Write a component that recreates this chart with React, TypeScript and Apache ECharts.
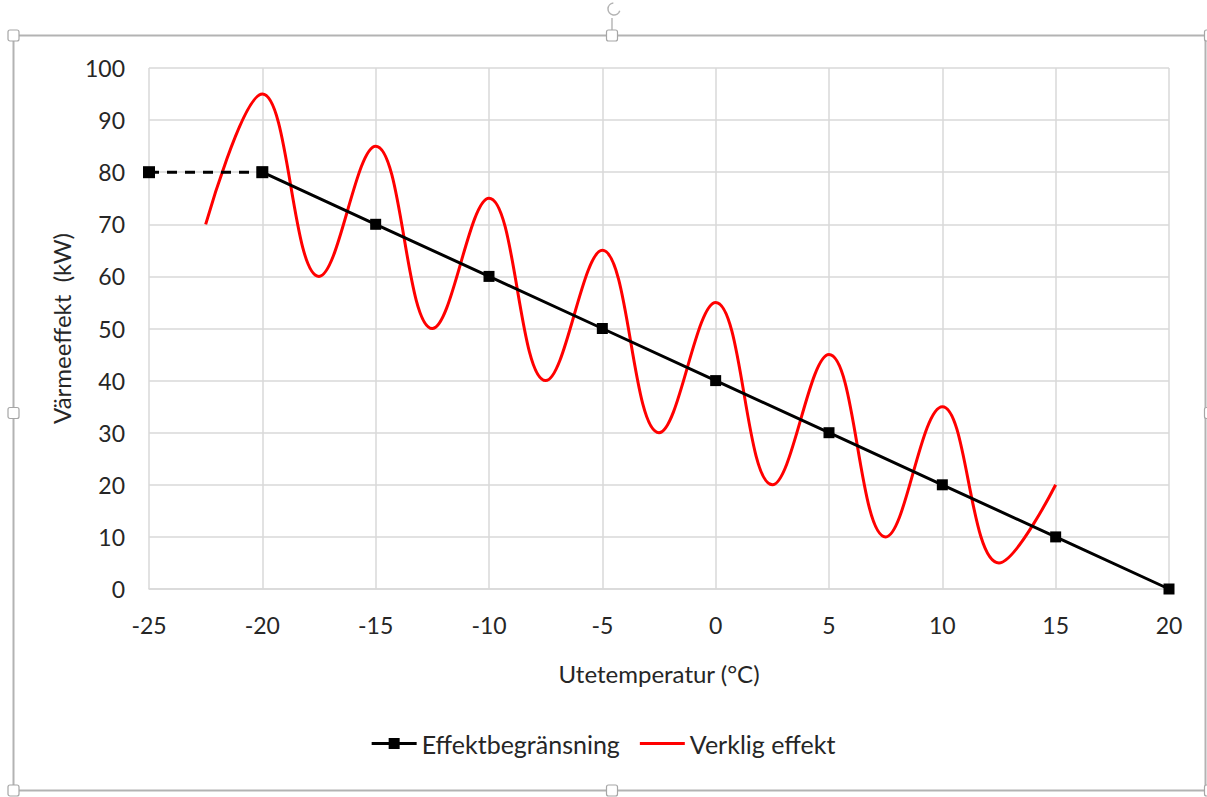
import React, { useEffect, useRef } from "react";
import * as echarts from "echarts";

const limitDashedX = [-25, -20];
const limitDashedY = [80, 80];
const limitX = [-20, -15, -10, -5, 0, 5, 10, 15, 20];
const limitY = [80, 70, 60, 50, 40, 30, 20, 10, 0];
const actualX = [-22.5, -20, -17.5, -15, -12.5, -10, -7.5, -5, -2.5, 0, 2.5, 5, 7.5, 10, 12.5, 15];
const actualY = [70, 95, 60, 85, 50, 75, 40, 65, 30, 55, 20, 45, 10, 35, 5, 20];

const FONT = "Lato, 'Open Sans', sans-serif";
const TXT = "#262626";

export default function App() {
  const ref = useRef<HTMLDivElement>(null);
  useEffect(() => {
    if (!ref.current) return;
    const chart = echarts.init(ref.current, null, { renderer: "svg" });
    const handle = (x: number, y: number) => ({
      type: "rect",
      shape: { x: x - 5.5, y: y - 5.5, width: 11, height: 11, r: 2 },
      style: { fill: "#ffffff", stroke: "#a6a6a6", lineWidth: 1.2 },
      z: 10,
    });
    chart.setOption({
      animation: false,
      backgroundColor: "#ffffff",
      textStyle: { fontFamily: FONT },
      grid: { left: 149, right: 38, top: 68, bottom: 208, containLabel: false },
      xAxis: {
        type: "value",
        min: -25,
        max: 20,
        interval: 5,
        name: "Utetemperatur (°C)",
        nameLocation: "middle",
        nameGap: 72,
        nameTextStyle: { fontSize: 24, color: TXT, fontFamily: FONT },
        axisLine: { show: true, lineStyle: { color: "#d9d9d9", width: 1.5 } },
        axisTick: { show: false },
        axisLabel: { fontSize: 23, color: TXT, margin: 24, fontFamily: FONT },
        splitLine: { show: true, lineStyle: { color: "#d9d9d9", width: 1.5 } },
      },
      yAxis: {
        type: "value",
        min: 0,
        max: 100,
        interval: 10,
        name: "Värmeeffekt  (kW)",
        nameLocation: "middle",
        nameGap: 76,
        nameRotate: 90,
        nameTextStyle: { fontSize: 24, color: TXT, fontFamily: FONT },
        axisLine: { show: false },
        axisTick: { show: false },
        axisLabel: { fontSize: 23, color: TXT, margin: 24, fontFamily: FONT },
        splitLine: { show: true, lineStyle: { color: "#d9d9d9", width: 1.5 } },
      },
      legend: {
        data: [
          {
            name: "Effektbegränsning",
            icon: "path://M0,4 L17,4 L17,0 L28,0 L28,4 L45,4 L45,7 L28,7 L28,11 L17,11 L17,7 L0,7 Z",
          },
          { name: "Verklig effekt", icon: "path://M0,4 L45,4 L45,7 L0,7 L0,4 Z M0,0 L0,0.01 L0.01,0.01 Z M0,11 L0,11.01 L0.01,11.01 Z" },
        ],
        bottom: 36,
        left: "center",
        itemWidth: 45,
        itemHeight: 11,
        itemGap: 20,
        textStyle: { fontSize: 25, color: TXT, fontFamily: FONT },
      },
      series: [
        {
          name: "Effektbegränsning (streckad)",
          type: "line",
          data: limitDashedX.map((x, i) => [x, limitDashedY[i]]),
          symbol: "rect",
          symbolSize: 12,
          itemStyle: { color: "#000000" },
          lineStyle: { color: "#000000", width: 3, type: [10, 8] },
          z: 3,
        },
        {
          name: "Effektbegränsning",
          type: "line",
          data: limitX.map((x, i) => [x, limitY[i]]),
          symbol: "rect",
          symbolSize: 11,
          itemStyle: { color: "#000000" },
          lineStyle: { color: "#000000", width: 3 },
          z: 3,
        },
        {
          name: "Verklig effekt",
          type: "line",
          data: actualX.map((x, i) => [x, actualY[i]]),
          symbol: "none",
          smooth: 0.4,
          itemStyle: { color: "#ff0000" },
          lineStyle: { color: "#ff0000", width: 3 },
          z: 2,
        },
      ],
      graphic: [
        {
          type: "rect",
          shape: { x: 13.5, y: 35.5, width: 1192, height: 755 },
          style: { fill: "none", stroke: "#b3b3b3", lineWidth: 2 },
          z: 9,
        },
        {
          type: "line",
          shape: { x1: 612, y1: 18, x2: 612, y2: 30 },
          style: { stroke: "#a6a6a6", lineWidth: 1.2 },
          z: 10,
        },
        {
          type: "arc",
          shape: { cx: 614, cy: 9, r: 6, startAngle: 0.3, endAngle: 4.6 },
          style: { stroke: "#b3b3b3", lineWidth: 1.5, fill: "none" },
          z: 10,
        },
        handle(13.5, 35.5),
        handle(612, 35.5),
        handle(13.5, 413),
        handle(13.5, 790.5),
        handle(612, 790.5),
        handle(1210, 413),
        handle(1210, 35.5),
        handle(1210, 790.5),
      ],
    });
    return () => chart.dispose();
  }, []);
  return <div ref={ref} style={{ width: 1207, height: 797, position: "absolute", left: 0, top: 0 }} />;
}
